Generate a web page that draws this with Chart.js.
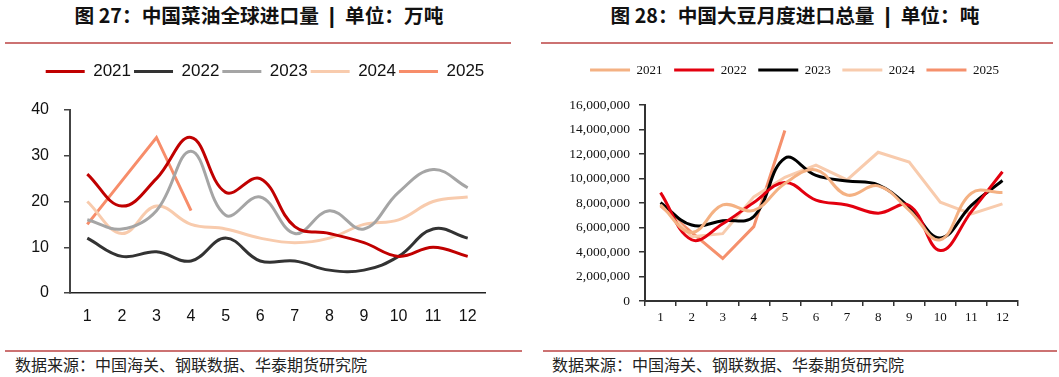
<!DOCTYPE html>
<html>
<head>
<meta charset="utf-8">
<script src="https://cdn.jsdelivr.net/npm/chart.js@4.4.1/dist/chart.umd.min.js"></script>
<style>
  html, body { margin:0; padding:0; background:#fff; }
  body { width:1059px; height:377px; position:relative; overflow:hidden; font-family:"Noto Sans CJK SC", sans-serif; }
  .title { position:absolute; top:2px; font-size:19.7px; font-weight:bold; color:#111; white-space:nowrap; transform:translateX(-50%); line-height:26px; }
  .bar { font-family:"Liberation Sans", sans-serif; font-weight:bold; font-size:22px; color:#111; margin:0 10px; }
  .rule { position:absolute; height:2px; background:#CC7272; }
  .foot { position:absolute; top:353px; font-size:16px; color:#222; white-space:nowrap; line-height:22px; }
  .cv { position:absolute; top:52px; height:290px; }
</style>
</head>
<body>
<div class="title" style="left:259px;">图&nbsp;27：中国菜油全球进口量<span class="bar">|</span>单位：万吨</div>
<div class="title" style="left:795px;">图&nbsp;28：中国大豆月度进口总量<span class="bar">|</span>单位：吨</div>
<div class="rule" style="left:5px; width:506px; top:42px;"></div>
<div class="rule" style="left:541px; width:512px; top:42px;"></div>
<div class="cv" style="left:0; width:530px;"><canvas id="c1" width="530" height="290"></canvas></div>
<div class="cv" style="left:530px; width:529px;"><canvas id="c2" width="529" height="290"></canvas></div>
<div class="rule" style="left:5px; width:517px; top:350px;"></div>
<div class="rule" style="left:543px; width:514px; top:350px;"></div>
<div class="foot" style="left:15px;">数据来源：中国海关、钢联数据、华泰期货研究院</div>
<div class="foot" style="left:552px;">数据来源：中国海关、钢联数据、华泰期货研究院</div>
<script>
// ---- Data: chart 27 (rapeseed oil imports, 10k tonnes) ----
const months = ["1","2","3","4","5","6","7","8","9","10","11","12"];
const oil2021 = [26,19,25,34,22,25,14.5,13,11,8,10,8];
const oil2022 = [12,8,9,7,12,7,7,5,5,8,14,12];
const oil2023 = [16,14,18,31,17,21,13,18,14,22,27,23];
const oil2024 = [20,13,19,15,14,12,11,12,15,16,20,21];
const oil2025 = [15,24.5,34,18];
const oilTicks = [0,10,20,30,40];

// ---- Data: chart 28 (soybean imports, tonnes) ----
const soy2021 = [7840000,5600000,7840000,7400000,9600000,10700000,8650000,9400000,7400000,5000000,8800000,8850000];
const soy2022 = [8850000,5000000,6300000,8050000,9670000,8240000,7840000,7170000,7800000,4120000,7300000,10550000];
const soy2023 = [8030000,6200000,6550000,6900000,11660000,10250000,9800000,9480000,7650000,5150000,7800000,9840000];
const soy2024 = [7900000,5250000,5500000,8500000,10100000,11100000,9880000,12140000,11350000,8070000,7100000,7930000];
const soy2025 = [7760000,5600000,3470000,6070000,13920000];
const soyTicks = [0,2000000,4000000,6000000,8000000,10000000,12000000,14000000,16000000];

function legendPlugin(h, shift) {
  return {
    id: 'legendH',
    beforeInit(chart) {
      const orig = chart.legend.fit;
      chart.legend.fit = function () { orig.bind(chart.legend)(); this.height = h; };
    },
    afterLayout(chart) {
      chart.legend.left += shift;
      chart.legend.right += shift;
    }
  };
}

function ds(label, data, color, tension) {
  return { label, data, borderColor: color, backgroundColor: color, borderWidth: 3,
           pointRadius: 0, pointHoverRadius: 0, tension: tension, fill: false,
           borderCapStyle: 'butt' };
}

// Chart 27
new Chart(document.getElementById('c1'), {
  type: 'line',
  data: {
    labels: months,
    datasets: [
      ds('2021', oil2021, '#C00000', 0.4),
      ds('2022', oil2022, '#333333', 0.4),
      ds('2023', oil2023, '#A5A5A5', 0.4),
      ds('2024', oil2024, '#F8CBAD', 0.4),
      ds('2025', oil2025, '#F78D6A', 0)
    ]
  },
  plugins: [legendPlugin(50, 22.5)],
  options: {
    responsive: false, animation: false,
    layout: { padding: { top: 8, right: 45, left: 0, bottom: 0 } },
    plugins: {
      tooltip: { enabled: false },
      legend: {
        position: 'top',
        labels: { usePointStyle: true, pointStyle: 'line', pointStyleWidth: 39, padding: 3,
                  color: '#111', font: { family: 'Liberation Sans', size: 17 } }
      }
    },
    scales: {
      x: {
        offset: true,
        grid: { display: false, drawTicks: false },
        border: { display: true, color: '#222', width: 1.5 },
        ticks: { color: '#111', padding: 14, font: { family: 'Liberation Sans', size: 16 }, maxRotation: 0 },
        afterFit(s) { s.height = 49; }
      },
      y: {
        min: 0, max: 40,
        afterBuildTicks(s) { s.ticks = oilTicks.map(v => ({ value: v })); },
        grid: { drawOnChartArea: false, drawTicks: true, tickLength: 6, color: '#444', lineWidth: 1.5 },
        border: { display: true, color: '#444', width: 2 },
        ticks: { color: '#111', padding: 15, font: { family: 'Liberation Sans', size: 16 } },
        afterFit(s) { s.width = 70; }
      }
    }
  }
});

// Chart 28
new Chart(document.getElementById('c2'), {
  type: 'line',
  data: {
    labels: months,
    datasets: [
      ds('2021', soy2021, '#F4B183', 0.4),
      ds('2022', soy2022, '#E3000F', 0.4),
      ds('2023', soy2023, '#000000', 0.4),
      ds('2024', soy2024, '#F8CBAD', 0),
      ds('2025', soy2025, '#F5906C', 0)
    ]
  },
  plugins: [legendPlugin(53, 20.5)],
  options: {
    responsive: false, animation: false,
    layout: { padding: { top: 0, right: 41, left: 0, bottom: 0 } },
    plugins: {
      tooltip: { enabled: false },
      legend: {
        position: 'top',
        labels: { usePointStyle: true, pointStyle: 'line', pointStyleWidth: 40, padding: 11.6,
                  color: '#111', font: { family: 'Liberation Serif', size: 13 } }
      }
    },
    scales: {
      x: {
        offset: true,
        grid: { offset: true, drawOnChartArea: false, drawTicks: true, tickLength: 5, color: '#333', lineWidth: 1.5 },
        border: { display: true, color: '#333', width: 2 },
        ticks: { color: '#111', padding: 4, font: { family: 'Liberation Serif', size: 13 }, maxRotation: 0 },
        afterFit(s) { s.height = 41; }
      },
      y: {
        min: 0, max: 16000000,
        afterBuildTicks(s) { s.ticks = soyTicks.map(v => ({ value: v })); },
        grid: { drawOnChartArea: false, drawTicks: true, tickLength: 6, color: '#333', lineWidth: 1.5 },
        border: { display: true, color: '#333', width: 2 },
        ticks: { color: '#111', padding: 9, font: { family: 'Liberation Serif', size: 13.5 },
                 callback: v => Number(v).toLocaleString('en-US') },
        afterFit(s) { s.width = 115; }
      }
    }
  }
});
</script>
</body>
</html>
